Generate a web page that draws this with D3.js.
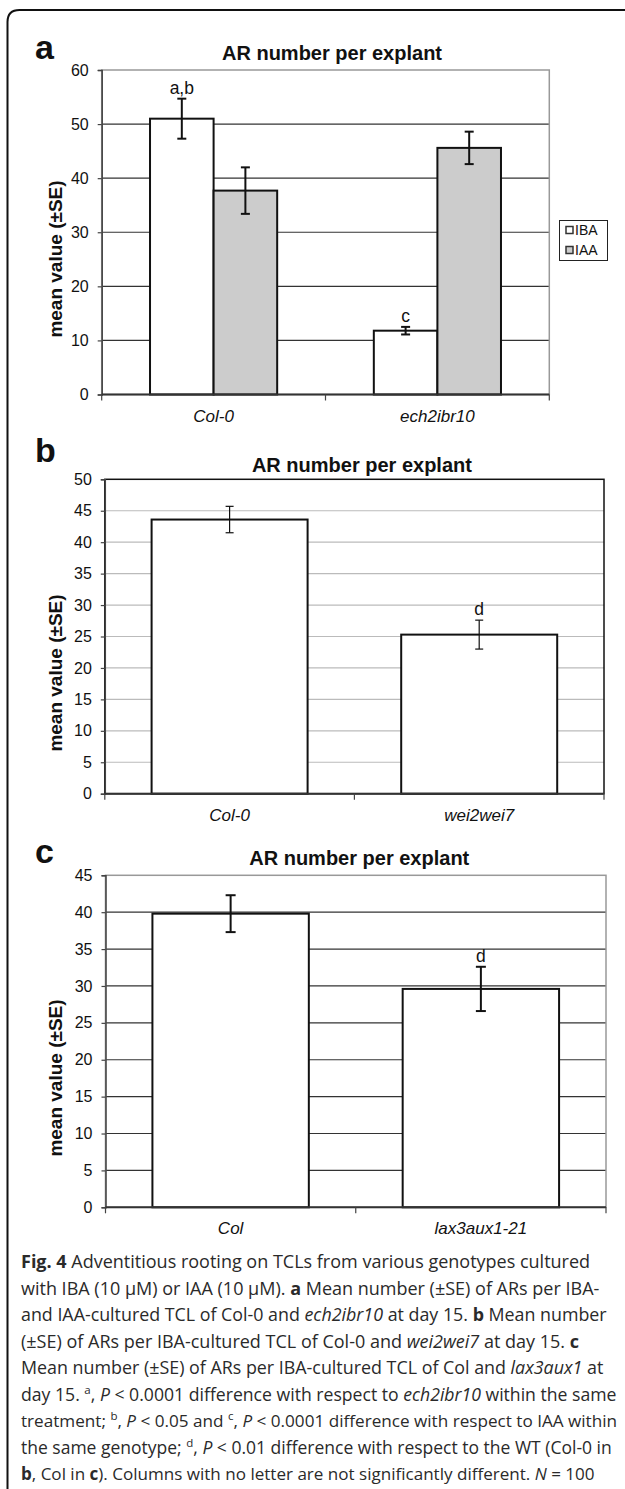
<!DOCTYPE html>
<html>
<head>
<meta charset="utf-8">
<script src="https://cdnjs.cloudflare.com/ajax/libs/d3/7.8.5/d3.min.js"></script>
<style>
  body { margin: 0; background: #fff; }
  svg { display: block; }
</style>
</head>
<body>
<svg id="fig" width="625" height="1489"></svg>
<script>
// ---- data ----
const genotypesA = ["Col-0", "ech2ibr10"];
const treatmentsA = ["IBA", "IAA"];
const meanIBA_A = [51.0, 11.8];
const seIBA_A = [3.7, 0.7];
const meanIAA_A = [37.7, 45.6];
const seIAA_A = [4.3, 3.0];
const lettersIBA_A = ["a,b", "c"];
const lettersIAA_A = ["", ""];
const yTicksA = [0, 10, 20, 30, 40, 50, 60];

const genotypesB = ["Col-0", "wei2wei7"];
const meanB = [43.6, 25.3];
const seB = [2.1, 2.3];
const lettersB = ["", "d"];
const yTicksB = [0, 5, 10, 15, 20, 25, 30, 35, 40, 45, 50];

const genotypesC = ["Col", "lax3aux1-21"];
const meanC = [39.8, 29.6];
const seC = [2.5, 3.0];
const lettersC = ["", "d"];
const yTicksC = [0, 5, 10, 15, 20, 25, 30, 35, 40, 45];

const chartTitle = "AR number per explant";
const yTitle = "mean value (\u00b1SE)";

// caption lines: [text, style] where style: b = bold, i = italic, s = superscript
const captionLines = [
  [["Fig. 4", "b"], [" Adventitious rooting on TCLs from various genotypes cultured", ""]],
  [["with IBA (10 \u03bcM) or IAA (10 \u03bcM). ", ""], ["a", "b"], [" Mean number (\u00b1SE) of ARs per IBA-", ""]],
  [["and IAA-cultured TCL of Col-0 and ", ""], ["ech2ibr10", "i"], [" at day 15. ", ""], ["b", "b"], [" Mean number", ""]],
  [["(\u00b1SE) of ARs per IBA-cultured TCL of Col-0 and ", ""], ["wei2wei7", "i"], [" at day 15. ", ""], ["c", "b"]],
  [["Mean number (\u00b1SE) of ARs per IBA-cultured TCL of Col and ", ""], ["lax3aux1", "i"], [" at", ""]],
  [["day 15. ", ""], ["a", "s"], [", ", ""], ["P", "i"], [" < 0.0001 difference with respect to ", ""], ["ech2ibr10", "i"], [" within the same", ""]],
  [["treatment; ", ""], ["b", "s"], [", ", ""], ["P", "i"], [" < 0.05 and ", ""], ["c", "s"], [", ", ""], ["P", "i"], [" < 0.0001 difference with respect to IAA within", ""]],
  [["the same genotype; ", ""], ["d", "s"], [", ", ""], ["P", "i"], [" < 0.01 difference with respect to the WT (Col-0 in", ""]],
  [["b", "b"], [", Col in ", ""], ["c", "b"], ["). Columns with no letter are not significantly different. ", ""], ["N", "i"], [" = 100", ""]]
];

const svg = d3.select("#fig");
const chartFont = "'Liberation Sans', Arial, sans-serif";

// outer frame (left + top, rounded corner)
svg.append("path")
  .attr("d", "M7.5,1489 L7.5,22 Q7.5,10 19.5,10 L625,10")
  .attr("fill", "none").attr("stroke", "#111").attr("stroke-width", 2);

function drawPanel(cfg) {
  const g = svg.append("g").style("font-family", chartFont);
  const { left, right, top, bottom } = cfg;

  const y = d3.scaleLinear().domain([0, cfg.yMax]).range([bottom, top]);
  const x0 = d3.scaleBand().domain(cfg.categories).range([left, right]).padding(0);
  const x1 = d3.scaleBand().domain(cfg.series.map(s => s.name))
    .range([0, x0.bandwidth()]).paddingInner(0).paddingOuter(cfg.outerPad);

  // gridlines
  g.append("g").selectAll("line")
    .data(cfg.ticks.filter(t => t > 0 && t < cfg.yMax))
    .join("line")
    .attr("x1", left).attr("x2", right)
    .attr("y1", d => y(d)).attr("y2", d => y(d))
    .attr("stroke", cfg.gridColor).attr("stroke-width", 1.2);

  // plot border
  g.append("rect")
    .attr("x", left).attr("y", top)
    .attr("width", right - left).attr("height", bottom - top)
    .attr("fill", "none").attr("stroke", cfg.borderColor).attr("stroke-width", cfg.borderWidth);

  // panel letter
  g.append("text").text(cfg.label)
    .attr("x", 35).attr("y", cfg.labelY)
    .attr("font-size", 34).attr("font-weight", "bold").attr("fill", "#111");

  // title
  g.append("text").text(chartTitle)
    .attr("x", (left + right) / 2 + cfg.titleShift).attr("y", top - cfg.titleGap)
    .attr("text-anchor", "middle")
    .attr("font-size", 20).attr("font-weight", "bold").attr("fill", "#111");

  // y axis title
  g.append("text").text(yTitle)
    .attr("transform", `translate(61.5,${cfg.yTitleY}) rotate(-90)`)
    .attr("text-anchor", "middle")
    .attr("font-size", 19).attr("font-weight", "bold").attr("fill", "#111");

  // bars
  cfg.series.forEach(s => {
    const gs = g.append("g");
    const rows = cfg.categories.map((c, i) => ({ c, v: s.values[i], se: s.se[i], letter: s.letters[i] }));
    gs.selectAll("rect")
      .data(rows)
      .join("rect")
      .attr("x", d => x0(d.c) + x1(s.name))
      .attr("y", d => y(d.v))
      .attr("width", x1.bandwidth())
      .attr("height", d => y(0) - y(d.v))
      .attr("fill", s.fill)
      .attr("stroke", "#111").attr("stroke-width", 2);

    // error bars
    const cx = d => x0(d.c) + x1(s.name) + x1.bandwidth() / 2;
    const eb = gs.selectAll("g.err")
      .data(rows)
      .join("g").attr("class", "err")
      .attr("stroke", "#111").attr("stroke-width", cfg.errWidth);
    eb.append("line")
      .attr("x1", cx).attr("x2", cx)
      .attr("y1", d => y(d.v + d.se)).attr("y2", d => y(d.v - d.se));
    eb.append("line")
      .attr("x1", d => cx(d) - cfg.cap).attr("x2", d => cx(d) + cfg.cap)
      .attr("y1", d => y(d.v + d.se)).attr("y2", d => y(d.v + d.se));
    eb.append("line")
      .attr("x1", d => cx(d) - cfg.cap).attr("x2", d => cx(d) + cfg.cap)
      .attr("y1", d => y(d.v - d.se)).attr("y2", d => y(d.v - d.se));

    // significance letters
    gs.selectAll("text.sig")
      .data(rows)
      .join("text").attr("class", "sig")
      .attr("x", cx).attr("y", d => y(d.v + d.se) - 5)
      .attr("text-anchor", "middle")
      .attr("font-size", 17.5).attr("fill", "#111")
      .text(d => d.letter);
  });

  // y axis
  const yAxis = g.append("g")
    .attr("transform", `translate(${left},0)`)
    .call(d3.axisLeft(y).tickValues(cfg.ticks).tickSize(4).tickPadding(9).tickFormat(d3.format("d")));
  yAxis.select(".domain").attr("stroke", "#444").attr("stroke-width", 1.5);
  yAxis.selectAll(".tick line").attr("stroke", "#444").attr("stroke-width", 1.2);
  yAxis.selectAll(".tick text").attr("font-size", 16).attr("fill", "#111").attr("font-family", chartFont);

  // x axis: baseline, ticks at category boundaries, italic labels
  const xAxis = g.append("g");
  xAxis.append("line")
    .attr("x1", left).attr("x2", right).attr("y1", y(0)).attr("y2", y(0))
    .attr("stroke", "#333").attr("stroke-width", 2);
  const bounds = cfg.categories.map(c => x0(c)).concat([x0.range()[1]]);
  xAxis.selectAll("line.tk").data(bounds).join("line").attr("class", "tk")
    .attr("x1", d => d).attr("x2", d => d)
    .attr("y1", y(0)).attr("y2", y(0) + 6)
    .attr("stroke", "#444").attr("stroke-width", 1.2);
  xAxis.selectAll("text").data(cfg.categories).join("text")
    .attr("x", d => x0(d) + x0.bandwidth() / 2)
    .attr("y", y(0) + 27)
    .attr("text-anchor", "middle")
    .attr("font-size", 17).attr("font-style", "italic").attr("fill", "#111")
    .text(d => d);

  return { g, x0, y };
}

// ---- panel a ----
drawPanel({
  label: "a", labelY: 58.5,
  left: 101.7, right: 549.3, top: 70, bottom: 394.5,
  yMax: 60, ticks: yTicksA, categories: genotypesA,
  series: [
    { name: treatmentsA[0], values: meanIBA_A, se: seIBA_A, letters: lettersIBA_A, fill: "#ffffff" },
    { name: treatmentsA[1], values: meanIAA_A, se: seIAA_A, letters: lettersIAA_A, fill: "#cccccc" }
  ],
  outerPad: 0.76, gridColor: "#333", borderColor: "#999", borderWidth: 1.5,
  errWidth: 2, cap: 4.5, titleShift: 6.5, titleGap: 10, yTitleY: 259
});

// legend for panel a
const legend = svg.append("g").style("font-family", chartFont);
legend.append("rect")
  .attr("x", 559.5).attr("y", 220.5).attr("width", 48).attr("height", 40)
  .attr("fill", "#fff").attr("stroke", "#222").attr("stroke-width", 1);
const legendFills = ["#ffffff", "#cccccc"];
treatmentsA.forEach((t, i) => {
  const ly = 230 + i * 20;
  legend.append("rect")
    .attr("x", 566).attr("y", ly - 3.5).attr("width", 7).attr("height", 7)
    .attr("fill", legendFills[i]).attr("stroke", "#333").attr("stroke-width", 1.5);
  legend.append("text").text(t)
    .attr("x", 575).attr("y", ly + 5)
    .attr("font-size", 14).attr("fill", "#111");
});

// ---- panel b ----
drawPanel({
  label: "b", labelY: 461.5,
  left: 104.8, right: 604, top: 479.3, bottom: 793.7,
  yMax: 50, ticks: yTicksB, categories: genotypesB,
  series: [{ name: "IBA", values: meanB, se: seB, letters: lettersB, fill: "#ffffff" }],
  outerPad: 0.3, gridColor: "#bbb", borderColor: "#111", borderWidth: 1.5,
  errWidth: 1.2, cap: 4, titleShift: 7.5, titleGap: 7.6, yTitleY: 673
});

// ---- panel c ----
drawPanel({
  label: "c", labelY: 863,
  left: 105.5, right: 606, top: 875.3, bottom: 1207.3,
  yMax: 45, ticks: yTicksC, categories: genotypesC,
  series: [{ name: "IBA", values: meanC, se: seC, letters: lettersC, fill: "#ffffff" }],
  outerPad: 0.3, gridColor: "#333", borderColor: "#999", borderWidth: 1.5,
  errWidth: 2, cap: 5, titleShift: 3.5, titleGap: 10.3, yTitleY: 1078
});

// ---- caption ----
// right edge of each caption line as set in the figure
const captionRight = [591, 600, 607, 587, 604, 617, 617, 612, 595];
const cap = svg.append("g")
  .style("font-family", "'Open Sans', 'Noto Sans', sans-serif")
  .attr("fill", "#2a2a2a");
captionLines.forEach((line, i) => {
  const t = cap.append("text").attr("x", 21).attr("y", 1268 + i * 26.5).attr("font-size", 18);
  line.forEach(([txt, st]) => {
    const ts = t.append("tspan").text(txt);
    if (st === "b") ts.attr("font-weight", "bold");
    if (st === "i") ts.attr("font-style", "italic");
    if (st === "s") ts.attr("font-size", 11.5).attr("baseline-shift", "super");
  });
  // shrink lines that run past their right edge
  const natural = t.node().getComputedTextLength();
  const target = captionRight[i] - 21;
  if (natural > target) t.attr("font-size", (18 * target / natural).toFixed(2));
});
</script>
</body>
</html>
